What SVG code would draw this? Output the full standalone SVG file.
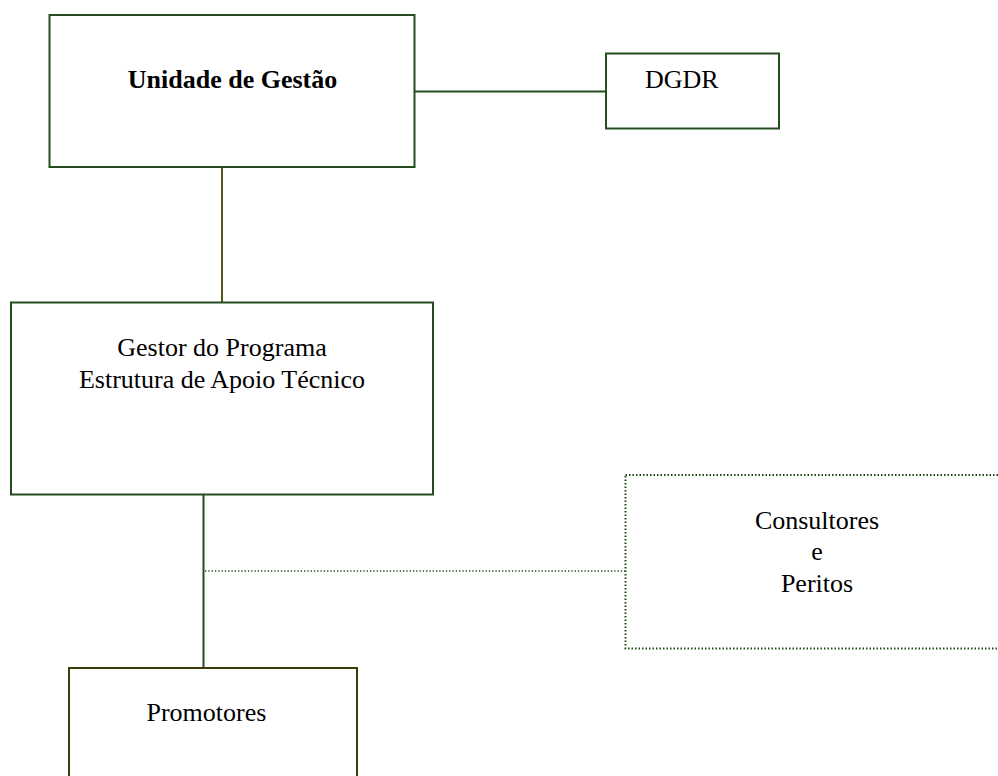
<svg xmlns="http://www.w3.org/2000/svg" width="998" height="776" viewBox="0 0 998 776">
<style>
.box{fill:#fff;stroke:#234d1c;stroke-width:2}
.olive{fill:#fff;stroke:#3b3b0c;stroke-width:2}
.dot{fill:none;stroke:#1f4a18;stroke-width:2;stroke-dasharray:1.5 2}
.dotl{fill:none;stroke:#1f4a18;stroke-width:1.5;stroke-dasharray:1.3 2}
.line{fill:none;stroke:#234d1c;stroke-width:2}
.oline{fill:none;stroke:#5a5418;stroke-width:2}
text{font-family:"Liberation Serif","Times New Roman",serif;font-size:26px;fill:#000}
.b{font-weight:bold}
</style>
<rect width="998" height="776" fill="#fff"/>
<g id="connectors">
<line class="line" x1="414" y1="91.5" x2="606" y2="91.5"/>
<line class="oline" x1="222" y1="167" x2="222" y2="303"/>
<line class="line" x1="203.5" y1="494" x2="203.5" y2="668"/>
<line class="dotl" x1="205" y1="571" x2="625" y2="571"/>
</g>
<g id="unidade">
<rect class="box" x="49.5" y="15" width="365" height="152"/>
<text class="b" x="232.5" y="88" text-anchor="middle">Unidade de Gestão</text>
</g>
<g id="dgdr">
<rect class="box" x="606" y="53.5" width="173" height="75"/>
<text x="645" y="88">DGDR</text>
</g>
<g id="gestor">
<rect class="box" x="11" y="302.5" width="422" height="192"/>
<text x="222" y="355.5" text-anchor="middle">Gestor do Programa</text>
<text x="222" y="387.5" text-anchor="middle">Estrutura de Apoio Técnico</text>
</g>
<g id="consultores">
<rect class="dot" x="625.5" y="475" width="400" height="173.5"/>
<text x="817" y="529" text-anchor="middle">Consultores</text>
<text x="817" y="560" text-anchor="middle">e</text>
<text x="817" y="592" text-anchor="middle">Peritos</text>
</g>
<g id="promotores">
<rect class="olive" x="69" y="668" width="288" height="140"/>
<text x="146.5" y="720.5">Promotores</text>
</g>
</svg>
